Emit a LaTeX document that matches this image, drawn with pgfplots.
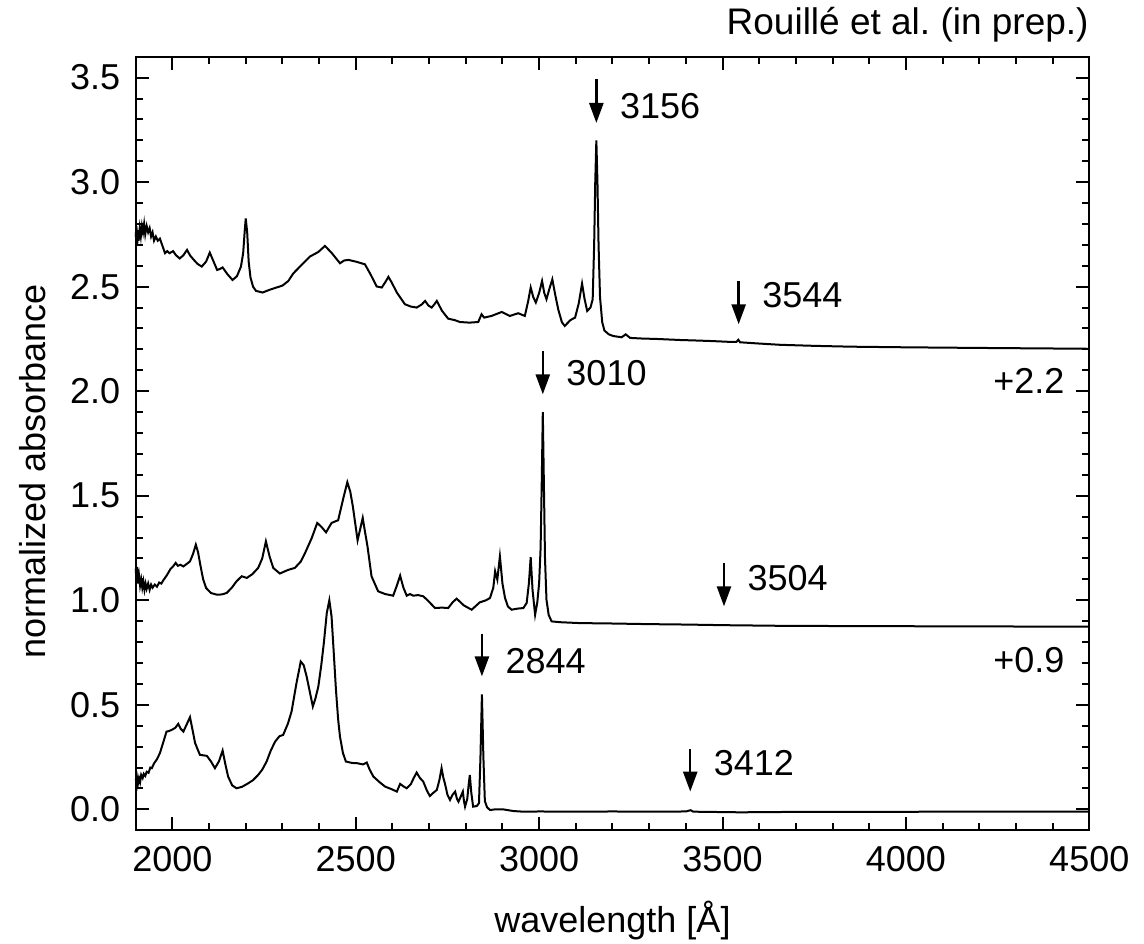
\documentclass[border=0pt]{standalone}
\usepackage{fontspec}
\setmainfont{Liberation Sans}
\usepackage{pgfplots}
\pgfplotsset{compat=1.18}
\usetikzlibrary{arrows.meta}

\newcommand{\fs}{\fontsize{10.8pt}{13pt}\selectfont}

% spectra, offsets already applied (+2.2 top, +0.9 middle)
\pgfplotstableread{
x y
1900 2.74
1902 2.79
1904 2.70
1906 2.77
1908 2.72
1911 2.78
1914 2.74
1917 2.79
1920 2.76
1923 2.80
1926 2.75
1930 2.79
1934 2.76
1938 2.78
1942 2.74
1946 2.76
1950 2.72
1955 2.74
1960 2.72
1966 2.73
1972 2.70
1976 2.68
1980 2.66
1986 2.67
1992 2.66
2002 2.67
2010 2.65
2020 2.635
2030 2.65
2040 2.676
2048 2.65
2057 2.631
2068 2.61
2080 2.596
2092 2.62
2102 2.663
2110 2.63
2122 2.58
2130 2.585
2137 2.592
2150 2.56
2164 2.532
2176 2.55
2187 2.596
2193 2.66
2197 2.76
2200 2.826
2204 2.76
2208 2.62
2213 2.544
2220 2.50
2228 2.48
2246 2.472
2265 2.485
2284 2.496
2300 2.505
2316 2.527
2330 2.564
2350 2.60
2375 2.644
2398 2.666
2416 2.695
2435 2.66
2457 2.612
2468 2.625
2480 2.628
2500 2.62
2525 2.607
2540 2.56
2557 2.501
2571 2.496
2580 2.52
2589 2.547
2598 2.52
2612 2.472
2634 2.416
2650 2.405
2666 2.40
2680 2.415
2689 2.432
2698 2.41
2707 2.40
2714 2.415
2721 2.432
2735 2.385
2752 2.347
2770 2.34
2784 2.331
2810 2.328
2834 2.331
2843 2.368
2850 2.352
2870 2.36
2898 2.379
2920 2.36
2943 2.373
2961 2.36
2970 2.43
2977 2.496
2984 2.45
2991 2.424
3000 2.47
3008 2.527
3014 2.47
3020 2.44
3028 2.49
3036 2.535
3044 2.46
3052 2.392
3062 2.33
3070 2.312
3085 2.34
3098 2.352
3108 2.42
3117 2.515
3124 2.44
3131 2.384
3140 2.40
3146 2.44
3150 2.70
3153 3.00
3156 3.20
3159 3.00
3162 2.70
3166 2.45
3172 2.33
3178 2.29
3190 2.272
3202 2.264
3225 2.258
3236 2.272
3248 2.255
3280 2.252
3320 2.25
3384 2.245
3420 2.243
3470 2.24
3520 2.236
3538 2.236
3543 2.246
3548 2.234
3600 2.228
3657 2.222
3750 2.217
3850 2.213
4000 2.21
4200 2.207
4500 2.203
}\topspec

\pgfplotstableread{
x y
1900 1.15
1902 1.10
1904 1.16
1906 1.08
1909 1.12
1912 1.07
1915 1.10
1918 1.06
1921 1.09
1924 1.05
1927 1.08
1930 1.055
1934 1.08
1938 1.05
1942 1.075
1946 1.06
1952 1.075
1958 1.065
1964 1.085
1970 1.08
1975 1.095
1985 1.12
1995 1.15
2002 1.162
2009 1.179
2015 1.165
2022 1.17
2030 1.162
2040 1.175
2048 1.186
2056 1.22
2064 1.266
2070 1.23
2077 1.162
2084 1.10
2092 1.059
2105 1.035
2121 1.027
2135 1.028
2148 1.035
2162 1.06
2175 1.091
2189 1.115
2203 1.107
2218 1.125
2234 1.155
2245 1.20
2255 1.282
2265 1.21
2275 1.155
2293 1.128
2315 1.145
2334 1.155
2350 1.185
2362 1.227
2380 1.298
2395 1.37
2407 1.35
2419 1.325
2434 1.37
2452 1.383
2465 1.48
2477 1.565
2485 1.52
2492 1.45
2500 1.35
2505 1.287
2512 1.34
2519 1.394
2525 1.33
2532 1.258
2543 1.115
2561 1.043
2580 1.03
2602 1.022
2612 1.07
2621 1.118
2630 1.06
2639 1.022
2648 1.03
2657 1.022
2670 1.025
2684 1.019
2696 1.0
2716 0.963
2735 0.965
2752 0.963
2764 0.99
2775 1.008
2795 0.975
2816 0.955
2838 0.99
2855 1.0
2866 1.011
2875 1.06
2880 1.139
2886 1.099
2893 1.21
2900 1.08
2907 1.011
2915 0.97
2925 0.955
2940 0.96
2957 0.963
2966 0.987
2972 1.08
2977 1.206
2982 1.05
2989 0.931
2995 0.99
3000 1.083
3004 1.25
3007 1.55
3010 1.90
3013 1.55
3016 1.20
3020 1.003
3026 0.93
3034 0.899
3060 0.895
3111 0.891
3200 0.889
3300 0.886
3400 0.884
3504 0.881
3657 0.878
3800 0.877
4000 0.876
4200 0.875
4500 0.874
}\midspec

\pgfplotstableread{
x y
1900 0.14
1903 0.16
1906 0.12
1909 0.15
1912 0.13
1915 0.165
1919 0.15
1922 0.17
1926 0.16
1930 0.18
1935 0.175
1940 0.20
1944 0.197
1950 0.22
1958 0.24
1966 0.269
1975 0.32
1984 0.372
1991 0.375
1998 0.38
2008 0.39
2016 0.409
2023 0.385
2030 0.372
2040 0.41
2048 0.441
2055 0.38
2062 0.317
2075 0.261
2094 0.256
2105 0.23
2116 0.197
2127 0.23
2137 0.281
2144 0.22
2152 0.157
2163 0.115
2175 0.101
2190 0.108
2207 0.125
2220 0.14
2234 0.165
2245 0.19
2257 0.229
2268 0.28
2280 0.324
2292 0.35
2302 0.356
2315 0.41
2325 0.468
2338 0.60
2350 0.707
2358 0.69
2366 0.636
2375 0.56
2383 0.492
2390 0.53
2398 0.588
2406 0.69
2413 0.796
2421 0.939
2428 1.0
2434 0.923
2440 0.75
2446 0.572
2452 0.43
2457 0.348
2465 0.27
2473 0.229
2490 0.222
2503 0.221
2520 0.215
2530 0.224
2538 0.19
2548 0.157
2565 0.13
2580 0.109
2600 0.095
2612 0.085
2621 0.122
2630 0.11
2639 0.101
2650 0.12
2658 0.15
2666 0.176
2675 0.15
2684 0.133
2694 0.09
2702 0.064
2712 0.08
2721 0.093
2728 0.14
2734 0.197
2739 0.15
2743 0.125
2750 0.07
2757 0.045
2764 0.07
2771 0.085
2776 0.05
2780 0.037
2786 0.06
2792 0.085
2795 0.04
2798 0.013
2804 0.05
2808 0.12
2811 0.165
2815 0.08
2820 0.013
2830 0.016
2836 0.03
2840 0.25
2844 0.55
2848 0.25
2852 0.04
2858 0.01
2866 -0.003
2880 0.0
2902 0.0
2930 -0.008
2957 -0.011
3000 -0.01
3100 -0.011
3200 -0.01
3300 -0.011
3400 -0.01
3413 -0.004
3420 -0.011
3548 -0.014
3700 -0.012
3900 -0.012
4100 -0.011
4300 -0.011
4500 -0.011
}\botspec

\begin{document}
\begin{tikzpicture}
\begin{axis}[
    at={(0,0)}, anchor=south west,
    scale only axis,
    width=286.08pt, height=232.08pt,
    xmin=1900, xmax=4500,
    ymin=-0.1, ymax=3.6,
    xtick={2000,2500,...,4500},
    ytick={0,0.5,...,3.5},
    minor x tick num=4,
    minor y tick num=4,
    tick align=inside,
    major tick length=3.9pt,
    minor tick length=2.25pt,
    every tick/.style={black, line width=0.6pt},
    axis line style={line width=0.7pt},
    /pgf/number format/assume math mode=true,
    xticklabel style={font=\fs, /pgf/number format/1000 sep={}, yshift=-1.4pt},
    yticklabel style={font=\fs, /pgf/number format/fixed, /pgf/number format/fixed zerofill, /pgf/number format/precision=1, xshift=-1.1pt},
    xlabel={wavelength [Å]},
    ylabel={normalized absorbance},
    xlabel style={font=\fs, at={(axis description cs:0.5,0)}, anchor=base, yshift=-30.8pt},
    ylabel style={font=\fs, at={(axis description cs:0,0.4635)}, anchor=base, yshift=27.2pt},
    clip=false,
]
\addplot[black, line width=0.6pt] table[x=x, y=y] {\topspec};
\addplot[black, line width=0.6pt] table[x=x, y=y] {\midspec};
\addplot[black, line width=0.6pt] table[x=x, y=y] {\botspec};

% marker arrows
\draw[line width=0.75pt, -{Triangle[width=4.2pt,length=6pt]}] (axis cs:3156,3.493) -- (axis cs:3156,3.283);
\node[font=\fs, anchor=west, inner sep=0pt, xshift=6.9pt] at (axis cs:3156,3.364) {3156};
\draw[line width=0.75pt, -{Triangle[width=4.2pt,length=6pt]}] (axis cs:3544,2.527) -- (axis cs:3544,2.320);
\node[font=\fs, anchor=west, inner sep=0pt, xshift=6.9pt] at (axis cs:3544,2.459) {3544};
\draw[line width=0.75pt, -{Triangle[width=4.2pt,length=6pt]}] (axis cs:3010,2.191) -- (axis cs:3010,1.985);
\node[font=\fs, anchor=west, inner sep=0pt, xshift=6.9pt] at (axis cs:3010,2.085) {3010};
\draw[line width=0.75pt, -{Triangle[width=4.2pt,length=6pt]}] (axis cs:3504,1.179) -- (axis cs:3504,0.971);
\node[font=\fs, anchor=west, inner sep=0pt, xshift=6.9pt] at (axis cs:3504,1.108) {3504};
\draw[line width=0.75pt, -{Triangle[width=4.2pt,length=6pt]}] (axis cs:2844,0.840) -- (axis cs:2844,0.636);
\node[font=\fs, anchor=west, inner sep=0pt, xshift=6.9pt] at (axis cs:2844,0.711) {2844};
\draw[line width=0.75pt, -{Triangle[width=4.2pt,length=6pt]}] (axis cs:3412,0.288) -- (axis cs:3412,0.085);
\node[font=\fs, anchor=west, inner sep=0pt, xshift=6.9pt] at (axis cs:3412,0.222) {3412};

% offsets
\node[font=\fs, anchor=east, inner sep=0pt] at (axis cs:4434,2.048) {+2.2};
\node[font=\fs, anchor=east, inner sep=0pt] at (axis cs:4434,0.716) {+0.9};

% reference
\node[font=\fontsize{11.1pt}{13pt}\selectfont, anchor=base east, inner sep=0pt] at ([yshift=6.8pt]rel axis cs:1,1) {Rouillé et al.\ (in prep.)};
\end{axis}
\pgfresetboundingbox
\path[use as bounding box] (-40.71pt,-34.11pt) rectangle (302.49pt,249.09pt);
\end{tikzpicture}
\end{document}
